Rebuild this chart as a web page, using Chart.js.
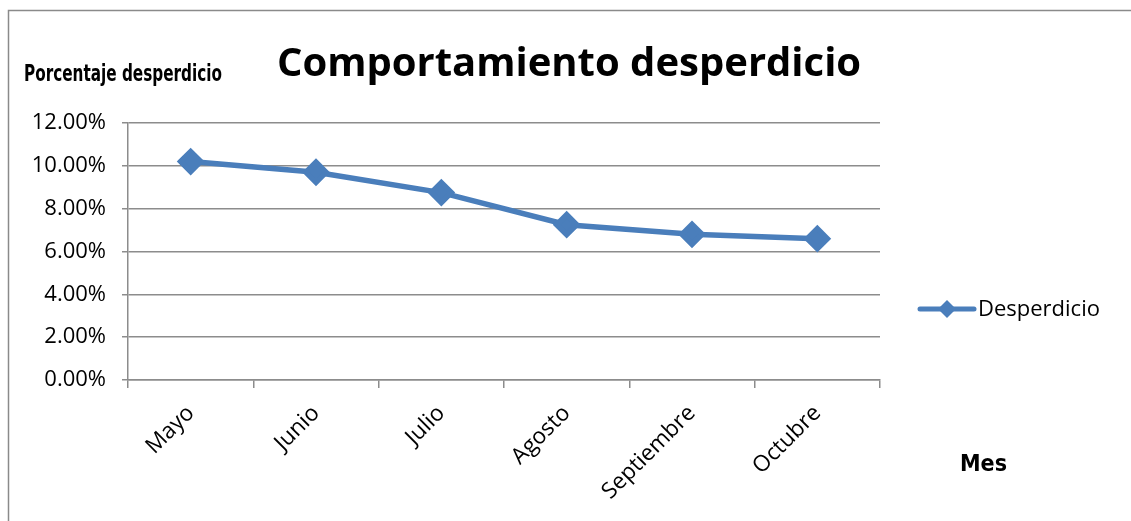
<!DOCTYPE html>
<html>
<head>
<meta charset="utf-8">
<script src="https://cdn.jsdelivr.net/npm/chart.js@4"></script>
<style>
  html, body { margin: 0; padding: 0; background: #fff; }
  #wrap { width: 1131px; height: 521px; position: relative; }
</style>
</head>
<body>
<div id="wrap"><canvas id="wasteChart"></canvas></div>
<script>
// Porcentaje de desperdicio por mes
const meses = ['Mayo', 'Junio', 'Julio', 'Agosto', 'Septiembre', 'Octubre'];
const desperdicio = [10.2, 9.7, 8.75, 7.25, 6.8, 6.6];
const serieNombre = 'Desperdicio';
const titulo = 'Comportamiento desperdicio';
const tituloY = 'Porcentaje desperdicio';
const tituloX = 'Mes';

const azul = '#4a7ebb';
const gris = '#8c8c8c';
const fuente = "'Open Sans', sans-serif";

// texto estrecho: se comprime en horizontal hasta el ancho pedido
function textoEstrecho(ctx, txt, x, y, ancho) {
    const w = ctx.measureText(txt).width;
    ctx.save();
    ctx.translate(x, y);
    ctx.scale(ancho / w, 1);
    ctx.fillText(txt, 0, 0);
    ctx.restore();
}

// marco, titulos y leyenda dibujados a mano
const extras = {
    id: 'extras',
    beforeDraw(chart) {
        const ctx = chart.ctx;
        ctx.save();
        ctx.fillStyle = '#fff';
        ctx.fillRect(0, 0, chart.width, chart.height);
        ctx.strokeStyle = '#8a8a8a';
        ctx.lineWidth = 1.5;
        ctx.beginPath();
        ctx.moveTo(8.5, chart.height + 2);
        ctx.lineTo(8.5, 10.5);
        ctx.lineTo(chart.width + 2, 10.5);
        ctx.stroke();
        ctx.restore();
    },
    afterDraw(chart) {
        const ctx = chart.ctx;
        const ds = chart.data.datasets[0];
        ctx.save();
        ctx.fillStyle = '#000';
        ctx.textBaseline = 'alphabetic';

        ctx.font = 'bold 40px ' + fuente;
        ctx.textAlign = 'center';
        ctx.fillText(titulo, 569, 76);
        ctx.textAlign = 'left';

        ctx.font = "bold 23px 'DejaVu Sans Condensed', sans-serif";
        textoEstrecho(ctx, tituloY, 24, 81, 198);
        textoEstrecho(ctx, tituloX, 960, 471, 47);

        // leyenda
        const y = 309;
        ctx.strokeStyle = ds.borderColor;
        ctx.lineWidth = 5;
        ctx.lineCap = 'round';
        ctx.beginPath();
        ctx.moveTo(920, y);
        ctx.lineTo(974, y);
        ctx.stroke();
        ctx.fillStyle = ds.pointBackgroundColor;
        const r = 9;
        ctx.beginPath();
        ctx.moveTo(947, y - r);
        ctx.lineTo(947 + r, y);
        ctx.lineTo(947, y + r);
        ctx.lineTo(947 - r, y);
        ctx.closePath();
        ctx.fill();
        ctx.fillStyle = '#000';
        ctx.font = '22px ' + fuente;
        ctx.textBaseline = 'middle';
        ctx.fillText(serieNombre, 978, y + 1);
        ctx.restore();
    }
};

new Chart(document.getElementById('wasteChart'), {
    type: 'line',
    data: {
        labels: meses,
        datasets: [{
            label: serieNombre,
            data: desperdicio,
            borderColor: azul,
            backgroundColor: azul,
            pointBackgroundColor: azul,
            pointBorderColor: azul,
            borderWidth: 5.5,
            pointStyle: 'rectRot',
            pointRadius: 10,
            pointHoverRadius: 10,
            tension: 0
        }]
    },
    options: {
        responsive: true,
        maintainAspectRatio: false,
        animation: false,
        layout: { padding: { top: 123, right: 251, left: 0, bottom: 0 } },
        plugins: {
            legend: { display: false },
            tooltip: { enabled: false }
        },
        scales: {
            x: {
                offset: true,
                grid: {
                    offset: true,
                    drawOnChartArea: false,
                    drawTicks: true,
                    tickLength: 8,
                    color: gris,
                    lineWidth: 1.5
                },
                border: { display: true, color: gris, width: 1.5 },
                ticks: {
                    color: '#000',
                    font: { family: fuente, size: 22.5 },
                    maxRotation: 45,
                    minRotation: 45,
                    padding: 12,
                    autoSkip: false
                },
                afterFit(scale) { scale.height = 521 - 380; }
            },
            y: {
                min: 0,
                max: 12,
                ticks: {
                    stepSize: 2,
                    color: '#000',
                    font: { family: fuente, size: 22 },
                    padding: 16,
                    callback: v => v.toFixed(2) + '%'
                },
                grid: {
                    color: gris,
                    lineWidth: 1.5,
                    tickLength: 6
                },
                border: { display: true, color: gris, width: 1.5 },
                afterFit(scale) { scale.width = 128; }
            }
        }
    },
    plugins: [extras]
});
</script>
</body>
</html>
